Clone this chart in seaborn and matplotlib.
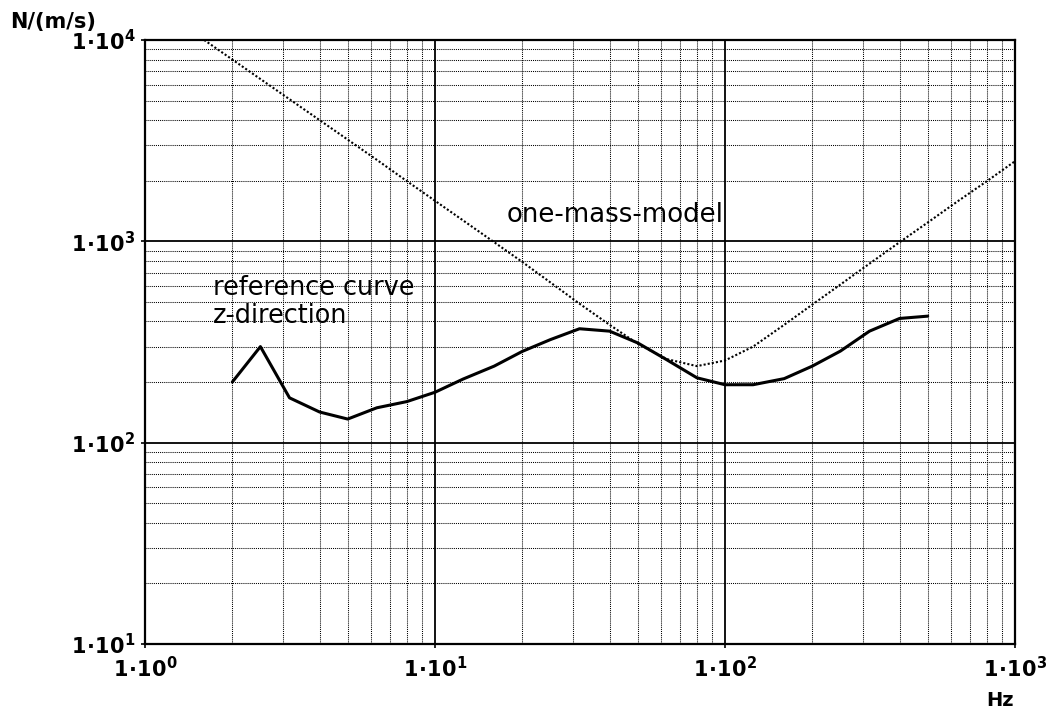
import matplotlib
matplotlib.use("Agg")
import matplotlib.pyplot as plt
import pandas as pd
import seaborn as sns
from matplotlib.ticker import LogLocator, NullFormatter

# Measured driving-point impedance, z-direction (third-octave bands)
ref_freq = [2, 2.5, 3.15, 4, 5, 6.3, 8, 10, 12.5, 16, 20, 25, 31.5, 40, 50,
            63, 80, 100, 125, 160, 200, 250, 315, 400, 500]
ref_z = [200, 300, 167, 142, 131, 149, 160, 178, 207, 240, 284, 325, 368, 358, 313,
         258, 210, 194, 194, 208, 240, 285, 358, 414, 425]

# One-mass-model impedance
mass_freq = [1.6, 2, 2.5, 3.15, 4, 5, 6.3, 8, 10, 12.5, 16, 20, 25, 31.5, 40, 50,
             63, 80, 100, 125, 160, 200, 250, 315, 400, 500, 630, 800, 1000]
mass_z = [10000, 8000, 6400, 5080, 4000, 3200, 2540, 1990, 1590, 1270, 990, 790, 625,
          490, 385, 310, 260, 240, 256, 300, 385, 485, 610, 775, 990, 1240, 1570,
          1990, 2500]

x_ticks = [1, 10, 100, 1000]
x_labels = [r"$\mathbf{1\!\cdot\!10^{0}}$", r"$\mathbf{1\!\cdot\!10^{1}}$",
            r"$\mathbf{1\!\cdot\!10^{2}}$", r"$\mathbf{1\!\cdot\!10^{3}}$"]
y_ticks = [10, 100, 1000, 10000]
y_labels = [r"$\mathbf{1\!\cdot\!10^{1}}$", r"$\mathbf{1\!\cdot\!10^{2}}$",
            r"$\mathbf{1\!\cdot\!10^{3}}$", r"$\mathbf{1\!\cdot\!10^{4}}$"]

sns.set_theme(style="white")
plt.rcParams["font.family"] = ["DejaVu Sans"]
plt.rcParams["mathtext.fontset"] = "dejavusans"
plt.rcParams["text.color"] = "black"
plt.rcParams["xtick.color"] = "black"
plt.rcParams["ytick.color"] = "black"

ref_df = pd.DataFrame({"freq": ref_freq, "z": ref_z})
mass_df = pd.DataFrame({"freq": mass_freq, "z": mass_z})

fig = plt.figure(figsize=(10.47, 7.11), dpi=100)
ax = fig.add_axes([145 / 1047, 1 - 644 / 711, 870 / 1047, 604 / 711])
ax.set_xscale("log")
ax.set_yscale("log")

sns.lineplot(data=mass_df, x="freq", y="z", ax=ax, color="black", linewidth=1.5,
             linestyle=(0, (1, 1)), zorder=4)
sns.lineplot(data=ref_df, x="freq", y="z", ax=ax, color="black", linewidth=2.2,
             zorder=5)

ax.set_xlim(1, 1000)
ax.set_ylim(10, 10000)

ax.set_xticks(x_ticks, labels=x_labels)
ax.set_yticks(y_ticks, labels=y_labels)
ax.xaxis.set_minor_locator(LogLocator(base=10, subs=range(2, 10)))
ax.yaxis.set_minor_locator(LogLocator(base=10, subs=range(2, 10)))
ax.xaxis.set_minor_formatter(NullFormatter())
ax.yaxis.set_minor_formatter(NullFormatter())

for lab in ax.get_xticklabels() + ax.get_yticklabels():
    lab.set_fontsize(15)
    lab.set_color("black")

ax.tick_params(axis="both", which="major", length=3, width=1.2, color="black",
               direction="out")
ax.tick_params(axis="x", which="major", pad=6, bottom=True)
ax.tick_params(axis="y", which="major", pad=4, left=True)
ax.tick_params(axis="both", which="minor", length=0)

ax.grid(which="major", color="black", linewidth=1.3, linestyle="-")
ax.grid(which="minor", color="black", linewidth=0.75, linestyle=(0, (1, 1)))
ax.set_axisbelow(True)

for side in ["left", "bottom", "top", "right"]:
    ax.spines[side].set_visible(True)
    ax.spines[side].set_color("black")
    ax.spines[side].set_linewidth(1.6)

ax.set_xlabel("")
ax.set_ylabel("")

ax.text(17.7, 1243, "one-mass-model", fontsize=18.7, color="black",
        ha="left", va="baseline", zorder=6)
ax.text(1.716, 539, "reference curve", fontsize=18.4, color="black",
        ha="left", va="baseline", zorder=6)
ax.text(1.716, 391, "z-direction", fontsize=18.4, color="black",
        ha="left", va="baseline", zorder=6)

fig.text(10 / 1047, 1 - 28 / 711, "N/(m/s)", fontsize=15, fontweight="bold",
         color="black", ha="left", va="baseline")
fig.text(1014 / 1047, 1 - 706 / 711, "Hz", fontsize=14, fontweight="bold",
         color="black", ha="right", va="baseline")

fig.savefig("out.png", dpi=100, facecolor="white")
